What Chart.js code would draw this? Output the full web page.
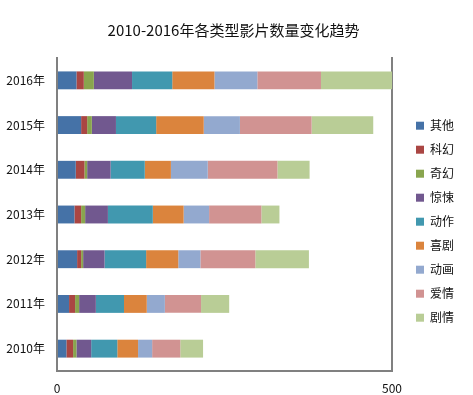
<!DOCTYPE html>
<html>
<head>
<meta charset="utf-8">
<script src="https://cdn.jsdelivr.net/npm/chart.js@4/dist/chart.umd.min.js"></script>
<style>
html,body{margin:0;padding:0;background:#fff;}
#wrap{width:473px;height:395px;position:relative;}
</style>
</head>
<body>
<div id="wrap"><canvas id="c"></canvas></div>
<script>
const years = ['2010年','2011年','2012年','2013年','2014年','2015年','2016年'];
const genres = ['其他','科幻','奇幻','惊悚','动作','喜剧','动画','爱情','剧情'];
const other    = [14, 18, 30, 26, 28, 36, 29];
const scifi    = [10,  9,  6, 10, 13,  9, 11];
const fantasy  = [ 5,  6,  3,  6,  4,  7, 15];
const thriller = [22, 25, 32, 34, 35, 36, 57];
const action   = [39, 42, 62, 67, 51, 60, 60];
const comedy   = [31, 34, 48, 46, 39, 71, 63];
const animation= [21, 27, 33, 38, 55, 54, 64];
const romance  = [42, 54, 82, 78, 104, 107, 95];
const drama    = [34, 42, 80, 27, 48, 92, 106];
const xTicks = [0, 500];

const seriesValues = [other, scifi, fantasy, thriller, action, comedy, animation, romance, drama];
const colors = ['#4572A7','#AA4643','#89A54E','#71588F','#4198AF','#DB843D','#93A9CF','#D19392','#B9CD96'];
const FONT = '"Noto Sans CJK SC", "Noto Sans", sans-serif';
const BORDER = '#808080';

new Chart(document.getElementById('c'), {
  type: 'bar',
  data: {
    labels: years,
    datasets: genres.map((g, i) => ({
      label: g,
      data: seriesValues[i],
      backgroundColor: colors[i],
      borderWidth: 0,
      categoryPercentage: 0.8,
      barPercentage: 0.5
    }))
  },
  options: {
    indexAxis: 'y',
    responsive: true,
    maintainAspectRatio: false,
    animation: false,
    layout: { padding: { left: 3, right: 9, top: 0, bottom: 0 } },
    plugins: {
      title: {
        display: true,
        text: '2010-2016年各类型影片数量变化趋势',
        color: '#111',
        font: { family: FONT, size: 15, weight: 'normal' },
        padding: { top: 21, bottom: 19 }
      },
      legend: {
        position: 'right',
        title: { display: true, text: '', padding: { top: 17, bottom: 17 } },
        labels: {
          boxWidth: 8,
          boxHeight: 8,
          padding: 12,
          color: '#111',
          font: { family: FONT, size: 12 }
        }
      },
      tooltip: { enabled: false }
    },
    scales: {
      x: {
        stacked: true,
        min: xTicks[0],
        max: xTicks[xTicks.length - 1],
        afterBuildTicks: (axis) => { axis.ticks = xTicks.map(v => ({ value: v })); },
        afterFit: (axis) => { axis.height = 24; },
        grid: { display: true, drawOnChartArea: true, drawTicks: false, color: BORDER, lineWidth: 2 },
        border: { display: true, color: BORDER, width: 2 },
        ticks: { color: '#111', padding: 10, font: { family: FONT, size: 12 } }
      },
      y: {
        stacked: true,
        reverse: true,
        afterFit: (axis) => { axis.width = 54; },
        grid: { display: false, drawTicks: false },
        border: { display: true, color: BORDER, width: 2 },
        ticks: { color: '#111', padding: 12, font: { family: FONT, size: 12 } }
      },
      y2: {
        position: 'right',
        type: 'category',
        labels: years,
        afterFit: (axis) => { axis.width = 12; },
        grid: { display: false, drawTicks: false },
        border: { display: true, color: BORDER, width: 2 },
        ticks: { display: false }
      }
    }
  }
});
</script>
</body>
</html>
